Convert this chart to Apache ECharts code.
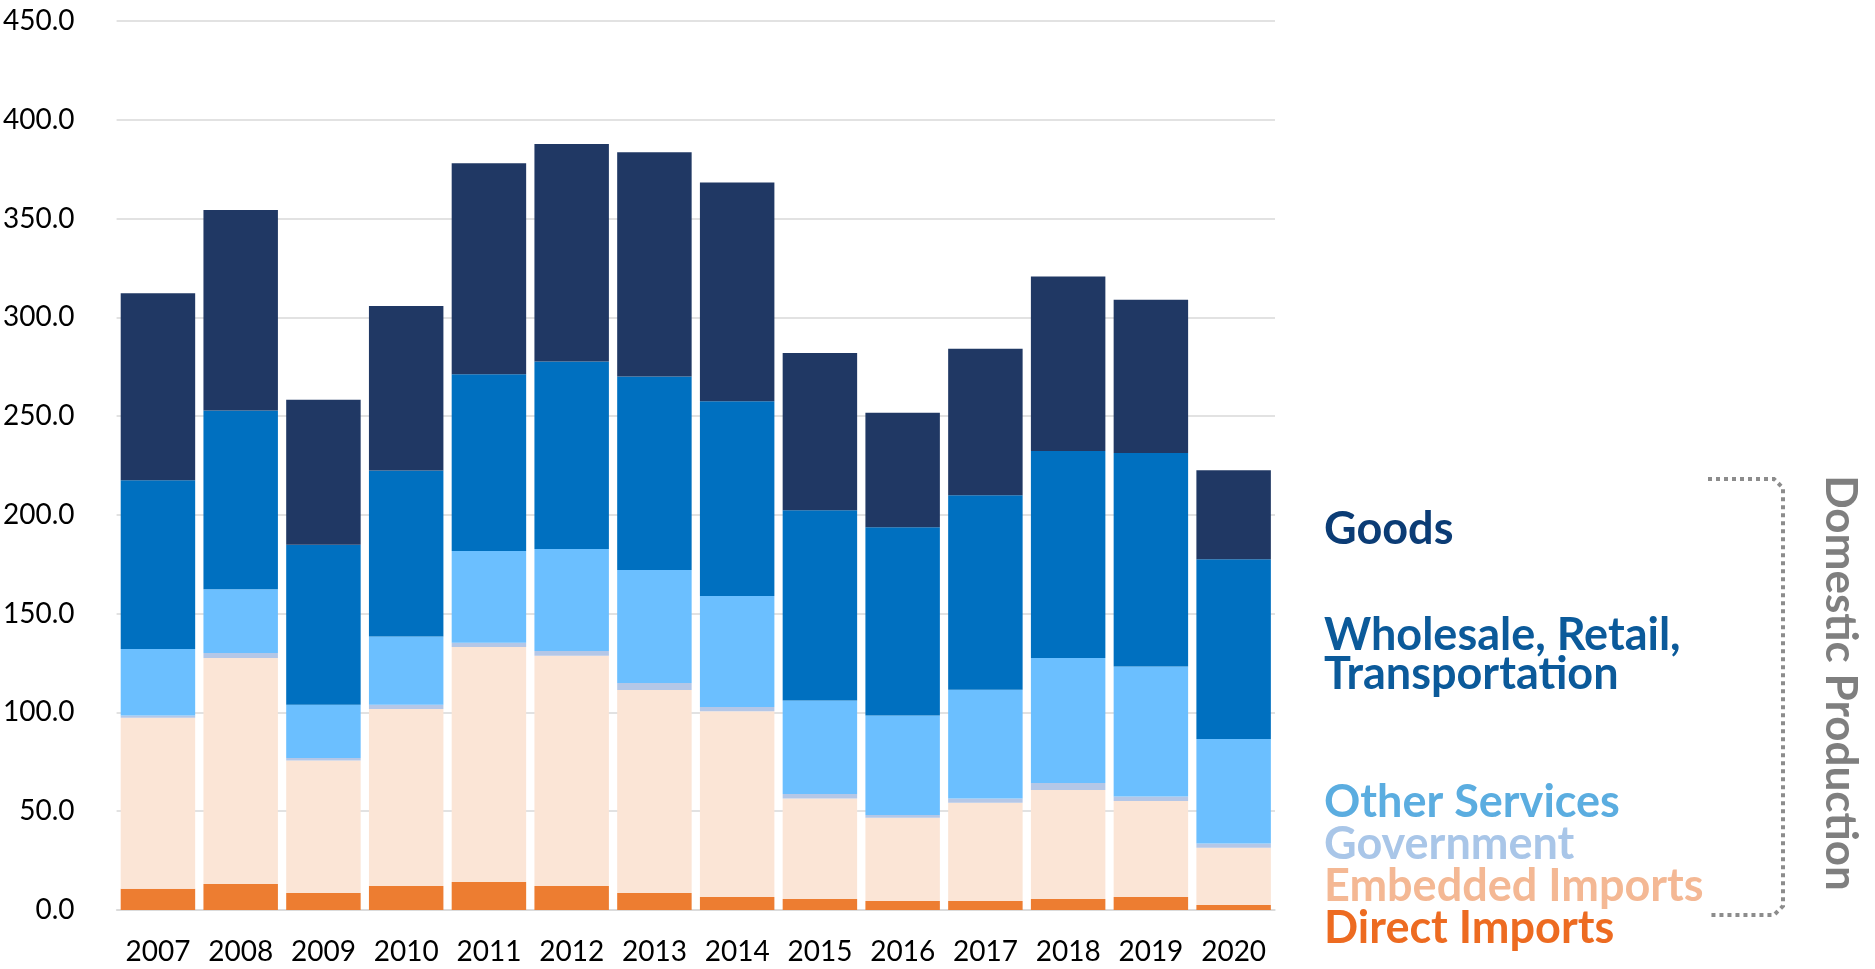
<!DOCTYPE html>
<html>
<head>
<meta charset="utf-8">
<script src="https://cdn.jsdelivr.net/npm/echarts@6/dist/echarts.min.js"></script>
<style>
  html, body { margin: 0; padding: 0; background: #fff; }
  #main { width: 1875px; height: 969px; }
</style>
</head>
<body>
<div id="main"></div>
<script>
// categories
const years = ['2007', '2008', '2009', '2010', '2011', '2012', '2013', '2014', '2015', '2016', '2017', '2018', '2019', '2020'];

// series values (bottom to top of the stack)
const directImports   = [10.8, 13.2, 8.6, 12.1, 14.2, 12.1, 8.6, 6.6, 5.6, 4.6, 4.6, 5.6, 6.6, 2.5];
const embeddedImports = [86.5, 114.4, 67.1, 89.6, 118.9, 116.6, 102.8, 94.0, 50.8, 42.1, 49.7, 55.1, 48.6, 29.0];
const government      = [1.1, 2.5, 1.2, 2.2, 2.2, 2.4, 3.5, 2.2, 2.3, 1.4, 2.2, 3.6, 2.3, 2.2];
const otherServices   = [33.7, 32.2, 27.0, 34.6, 46.4, 51.6, 57.2, 56.1, 47.4, 50.4, 55.0, 63.3, 65.8, 52.9];
const wholesale       = [85.4, 90.6, 81.0, 84.0, 89.5, 95.0, 98.0, 98.6, 96.2, 95.2, 98.4, 104.7, 108.0, 90.9];
const goods           = [94.7, 101.4, 73.4, 83.2, 106.8, 110.0, 113.4, 110.8, 79.6, 58.0, 74.2, 88.4, 77.6, 45.1];

// y axis ticks
const yMin = 0, yMax = 450, yStep = 50;

const seriesNames = ['Direct Imports', 'Embedded Imports', 'Government', 'Other Services', 'Wholesale, Retail, Transportation', 'Goods'];
const seriesData = [directImports, embeddedImports, government, otherServices, wholesale, goods];
const barColors = ['#ED7D31', '#FBE5D6', '#B4C7E7', '#6BBFFF', '#0070C0', '#203864'];

const font = 'Lato, "Open Sans", sans-serif';
const legendFont = 'bold 45px ' + font;

let myChart = echarts.init(document.getElementById('main'));

// text label helper for the right-hand legend
function label(text, y, color) {
	return {
		type: 'text', x: 1324, y: y,
		style: { text: text, fill: color, font: legendFont, verticalAlign: 'middle' }
	};
}

let option = {
	animation: false,
	grid: {
		left: 116,
		right: 600,
		top: 21,
		bottom: 59
	},
	xAxis: {
		type: 'category',
		data: years,
		axisLine: { lineStyle: { color: '#D9D9D9', width: 1.5 } },
		axisTick: { show: false },
		axisLabel: { color: '#000', fontFamily: font, fontSize: 28, margin: 28, interval: 0, hideOverlap: false }
	},
	yAxis: {
		type: 'value',
		min: yMin,
		max: yMax,
		interval: yStep,
		axisLine: { show: false },
		axisTick: { show: false },
		splitLine: { lineStyle: { color: '#D9D9D9', width: 1.5 } },
		axisLabel: {
			color: '#000',
			fontFamily: font,
			fontSize: 28,
			margin: 42,
			formatter: function (v) { return v.toFixed(1); }
		}
	},
	series: seriesNames.map(function (name, i) {
		return {
			name: name,
			type: 'bar',
			stack: 'total',
			data: seriesData[i],
			barCategoryGap: '10%',
			itemStyle: { color: barColors[i] }
		};
	}),
	graphic: [
		label('Goods', 529, '#0B3C75'),
		label('Wholesale, Retail,', 635, '#0B5A9A'),
		label('Transportation', 674, '#0B5A9A'),
		label('Other Services', 802, '#5BADE0'),
		label('Government', 844, '#A9C6E8'),
		label('Embedded Imports', 886, '#F4B894'),
		label('Direct Imports', 928, '#ED6B21'),
		// dotted bracket
		{
			type: 'polyline',
			shape: { points: [[1708, 479], [1774, 479], [1783, 488], [1783, 906], [1774, 915], [1708, 915]] },
			style: { stroke: '#8C8C8C', lineWidth: 4, lineDash: [4, 4], fill: null }
		},
		// bracket caption
		{
			type: 'text',
			x: 1840,
			y: 683,
			rotation: -Math.PI / 2,
			style: { text: 'Domestic Production', fill: '#7F7F7F', font: 'bold 44px ' + font, align: 'center', verticalAlign: 'middle' }
		}
	]
};

myChart.setOption(option);
</script>
</body>
</html>
